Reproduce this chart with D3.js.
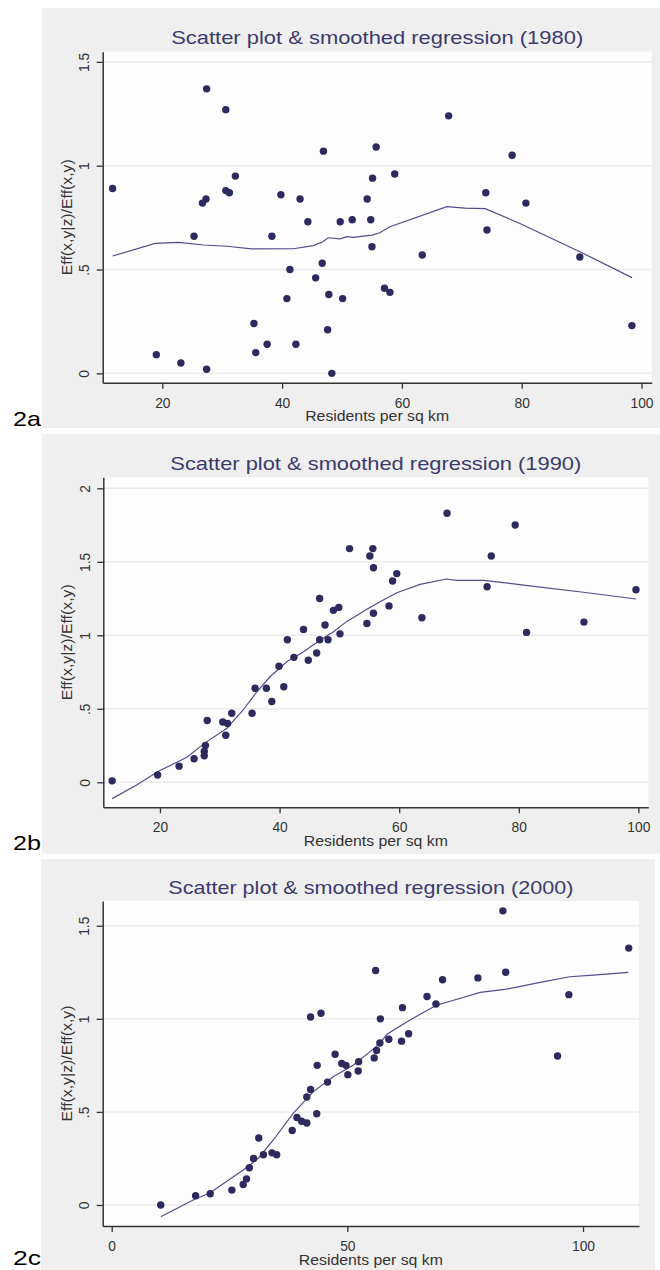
<!DOCTYPE html>
<html>
<head>
<meta charset="utf-8">
<script src="https://cdn.jsdelivr.net/npm/d3@7"></script>
<style>
    body { margin: 0; background: #fff; }
    text { font-family: "Liberation Sans", Arial, sans-serif; }
</style>
</head>
<body>
<div id="chart"></div>
<script>
// 1980
var x1980 = [11.7, 27.4, 30.6, 32.2, 30.6, 31.2, 27.3, 26.7, 25.3, 19.0, 23.1, 27.4, 35.3, 35.6, 37.5, 38.3,
    39.8, 43.0, 41.3, 40.8, 42.3, 44.3, 45.6, 46.7, 46.9, 47.8, 47.6, 48.3, 50.1, 49.7, 51.7, 54.8, 54.2,
    55.1, 55.0, 55.7, 58.8, 57.1, 58.0, 63.4, 67.8, 74.0, 74.2, 78.4, 80.7, 89.7, 98.4];
var y1980 = [0.89, 1.37, 1.27, 0.95, 0.88, 0.87, 0.84, 0.82, 0.66, 0.09, 0.05, 0.02, 0.24, 0.10, 0.14, 0.66,
    0.86, 0.84, 0.50, 0.36, 0.14, 0.73, 0.46, 0.53, 1.07, 0.38, 0.21, 0.00, 0.36, 0.73, 0.74, 0.74, 0.84,
    0.94, 0.61, 1.09, 0.96, 0.41, 0.39, 0.57, 1.24, 0.87, 0.69, 1.05, 0.82, 0.56, 0.23];
var fitX1980 = [11.7, 18.8, 22.7, 26.9, 30.8, 34.9, 41.9, 45.2, 46.8, 47.7, 49.7, 50.8, 51.9, 55.0, 56.3,
    58.0, 67.5, 70.5, 73.9, 79.7, 89.7, 98.4];
var fitY1980 = [0.565, 0.626, 0.631, 0.618, 0.612, 0.599, 0.600, 0.615, 0.634, 0.653, 0.648, 0.658, 0.655,
    0.666, 0.677, 0.706, 0.803, 0.796, 0.793, 0.722, 0.586, 0.461];

// 1990
var x1990 = [12.0, 19.6, 23.2, 25.7, 27.4, 27.4, 27.6, 27.9, 30.5, 31.3, 31.0, 32.0, 35.4, 35.9, 37.8, 38.7,
    39.9, 40.7, 41.3, 42.4, 44.0, 44.8, 46.2, 46.7, 46.7, 47.6, 48.1, 49.0, 49.9, 50.1, 51.7, 55.1, 55.6,
    55.7, 55.7, 54.6, 58.3, 58.9, 59.6, 63.8, 68.0, 74.7, 75.4, 79.4, 81.3, 90.9, 99.6];
var y1990 = [0.01, 0.05, 0.11, 0.16, 0.18, 0.21, 0.25, 0.42, 0.41, 0.40, 0.32, 0.47, 0.47, 0.64, 0.64, 0.55,
    0.79, 0.65, 0.97, 0.85, 1.04, 0.83, 0.88, 0.97, 1.25, 1.07, 0.97, 1.17, 1.19, 1.01, 1.59, 1.54, 1.59,
    1.46, 1.15, 1.08, 1.20, 1.37, 1.42, 1.12, 1.83, 1.33, 1.54, 1.75, 1.02, 1.09, 1.31];
var fitX1990 = [12.0, 16.1, 19.6, 24.5, 27.6, 31.2, 33.9, 36.2, 38.4, 41.2, 44.0, 46.8, 49.0, 51.2, 54.6,
    56.8, 59.6, 63.5, 67.9, 69.6, 74.1, 80.8, 90.8, 99.6];
var fitY1990 = [-0.111, -0.018, 0.072, 0.170, 0.270, 0.367, 0.492, 0.616, 0.718, 0.820, 0.888, 0.968, 1.025,
    1.093, 1.177, 1.229, 1.290, 1.347, 1.383, 1.374, 1.374, 1.342, 1.293, 1.247];

// 2000
var x2000 = [10.4, 17.8, 20.9, 25.5, 27.9, 28.6, 29.2, 30.1, 31.2, 32.2, 34.0, 35.0, 38.3, 39.3, 40.3, 41.4,
    41.4, 42.2, 43.5, 43.6, 42.2, 44.4, 45.8, 47.4, 48.8, 49.7, 50.1, 52.4, 52.3, 55.7, 56.2, 56.0, 57.0,
    56.9, 58.8, 61.5, 61.7, 63.0, 66.9, 68.8, 70.2, 77.7, 83.0, 83.6, 94.6, 97.0, 109.7];
var y2000 = [0.00, 0.05, 0.06, 0.08, 0.11, 0.14, 0.20, 0.25, 0.36, 0.27, 0.28, 0.27, 0.40, 0.47, 0.45, 0.44,
    0.58, 0.62, 0.49, 0.75, 1.01, 1.03, 0.66, 0.81, 0.76, 0.75, 0.70, 0.77, 0.72, 0.79, 0.83, 1.26, 1.00,
    0.87, 0.89, 0.88, 1.06, 0.92, 1.12, 1.08, 1.21, 1.22, 1.58, 1.25, 0.80, 1.13, 1.38];
var fitX2000 = [10.4, 17.3, 20.9, 27.9, 31.1, 34.3, 38.5, 42.8, 47.0, 51.3, 54.1, 56.9, 58.4, 63.3, 69.0,
    71.1, 78.2, 83.8, 90.9, 97.2, 102.2, 109.6];
var fitY2000 = [-0.063, 0.027, 0.066, 0.188, 0.251, 0.349, 0.492, 0.609, 0.689, 0.752, 0.809, 0.868, 0.917,
    0.994, 1.074, 1.089, 1.142, 1.160, 1.196, 1.226, 1.235, 1.250];

var xTicksA = [20, 40, 60, 80, 100];
var xTicksC = [0, 50, 100];
var yTicksA = [0, 0.5, 1, 1.5];
var yTicksB = [0, 0.5, 1, 1.5, 2];

var panels = [
    {label: "2a", year: "1980", xs: x1980, ys: y1980, fx: fitX1980, fy: fitY1980, xTicks: xTicksA, yTicks: yTicksA,
        bg: [42, 8, 618, 420], left: 102.7, right: 651.7, top: 51.7, bottom: 382.7,
        xDom: [10.05, 101.7], yDom: [-0.045, 1.549], titleLen: 412, labelY: 426},
    {label: "2b", year: "1990", xs: x1990, ys: y1990, fx: fitX1990, fy: fitY1990, xTicks: xTicksA, yTicks: yTicksB,
        bg: [42, 434, 618, 420], left: 103.3, right: 648.3, top: 477.3, bottom: 807.3,
        xDom: [10.52, 101.66], yDom: [-0.170, 2.075], titleLen: 411, labelY: 850},
    {label: "2c", year: "2000", xs: x2000, ys: y2000, fx: fitX2000, fy: fitY2000, xTicks: xTicksC, yTicks: yTicksA,
        bg: [41, 859, 614, 411], left: 102.7, right: 639, top: 901, bottom: 1226,
        xDom: [-1.91, 111.88], yDom: [-0.113, 1.633], titleLen: 405, labelY: 1265}
];

var svg = d3.select("#chart").append("svg")
    .attr("width", 660)
    .attr("height", 1270);

function squeeze(sel, k) {
    sel.each(function () {
        var w = this.getComputedTextLength();
        d3.select(this).attr("textLength", w * k).attr("lengthAdjust", "spacingAndGlyphs");
    });
}

function fmt(d) {
    return d === 0 ? "0" : String(d).replace(/^0\./, ".");
}

panels.forEach(function (p) {
    var g = svg.append("g");

    var x = d3.scaleLinear().domain(p.xDom).range([p.left, p.right]);
    var y = d3.scaleLinear().domain(p.yDom).range([p.bottom, p.top]);

    // grey graph region + white plot region
    g.append("rect")
        .attr("x", p.bg[0]).attr("y", p.bg[1])
        .attr("width", p.bg[2]).attr("height", p.bg[3])
        .attr("fill", "#efefef");
    g.append("rect")
        .attr("x", p.left).attr("y", p.top)
        .attr("width", p.right - p.left).attr("height", p.bottom - p.top)
        .attr("fill", "#fdfdfd");

    g.selectAll(".grid")
        .data(p.yTicks)
        .enter().append("line")
        .attr("x1", p.left).attr("x2", p.right)
        .attr("y1", function (d) { return y(d); })
        .attr("y2", function (d) { return y(d); })
        .attr("stroke", "#ebebeb")
        .attr("stroke-width", 1.5);

    // smoothed regression
    var line = d3.line()
        .x(function (d, i) { return x(p.fx[i]); })
        .y(function (d, i) { return y(p.fy[i]); });
    g.append("path")
        .attr("d", line(p.fx))
        .attr("fill", "none")
        .attr("stroke", "#4e4e8a")
        .attr("stroke-width", 1.2);

    g.selectAll(".dot")
        .data(p.xs)
        .enter().append("circle")
        .attr("cx", function (d) { return x(d); })
        .attr("cy", function (d, i) { return y(p.ys[i]); })
        .attr("r", 3.7)
        .attr("fill", "#2b2b5e");

    // axes
    var yAxis = g.append("g")
        .attr("transform", "translate(" + p.left + ",0)")
        .call(d3.axisLeft(y).tickValues(p.yTicks).tickSize(6).tickSizeOuter(0).tickFormat(fmt));
    var xAxis = g.append("g")
        .attr("transform", "translate(0," + p.bottom + ")")
        .call(d3.axisBottom(x).tickValues(p.xTicks).tickSize(6).tickSizeOuter(0));

    [yAxis, xAxis].forEach(function (a) {
        a.select(".domain").attr("stroke", "#333").attr("stroke-width", 1.5);
        a.selectAll(".tick line").attr("stroke", "#333").attr("stroke-width", 1.3);
        a.selectAll(".tick text")
            .attr("fill", "#333")
            .style("font-size", "15px")
            .style("font-family", "'Liberation Sans', Arial, sans-serif");
    });
    // y tick labels stand on their side
    yAxis.selectAll(".tick text")
        .attr("transform", "rotate(-90)")
        .attr("x", 0)
        .attr("y", -13.5)
        .attr("dy", 0)
        .attr("text-anchor", "middle");
    xAxis.selectAll(".tick text")
        .attr("y", 0)
        .attr("dy", 25);
    squeeze(yAxis.selectAll(".tick text"), 0.92);
    squeeze(xAxis.selectAll(".tick text"), 0.92);

    var cx = (p.left + p.right) / 2,
        cy = (p.top + p.bottom) / 2;

    g.append("text")
        .attr("x", cx)
        .attr("y", p.top - 7.5)
        .attr("text-anchor", "middle")
        .attr("fill", "#3b3b6c")
        .style("font-size", "19px")
        .attr("textLength", p.titleLen)
        .attr("lengthAdjust", "spacingAndGlyphs")
        .text("Scatter plot & smoothed regression (" + p.year + ")");

    g.append("text")
        .attr("transform", "translate(72," + cy + ") rotate(-90)")
        .attr("text-anchor", "middle")
        .attr("fill", "#333")
        .style("font-size", "14px")
        .attr("textLength", 116)
        .attr("lengthAdjust", "spacingAndGlyphs")
        .text("Eff(x,y|z)/Eff(x,y)");

    g.append("text")
        .attr("x", cx)
        .attr("y", p.bottom + 38.5)
        .attr("text-anchor", "middle")
        .attr("fill", "#333")
        .style("font-size", "14px")
        .attr("textLength", 144)
        .attr("lengthAdjust", "spacingAndGlyphs")
        .text("Residents per sq km");

    g.append("text")
        .attr("x", 13)
        .attr("y", p.labelY)
        .attr("fill", "#000")
        .style("font-size", "21px")
        .attr("textLength", 28)
        .attr("lengthAdjust", "spacingAndGlyphs")
        .text(p.label);
});
</script>
</body>
</html>
